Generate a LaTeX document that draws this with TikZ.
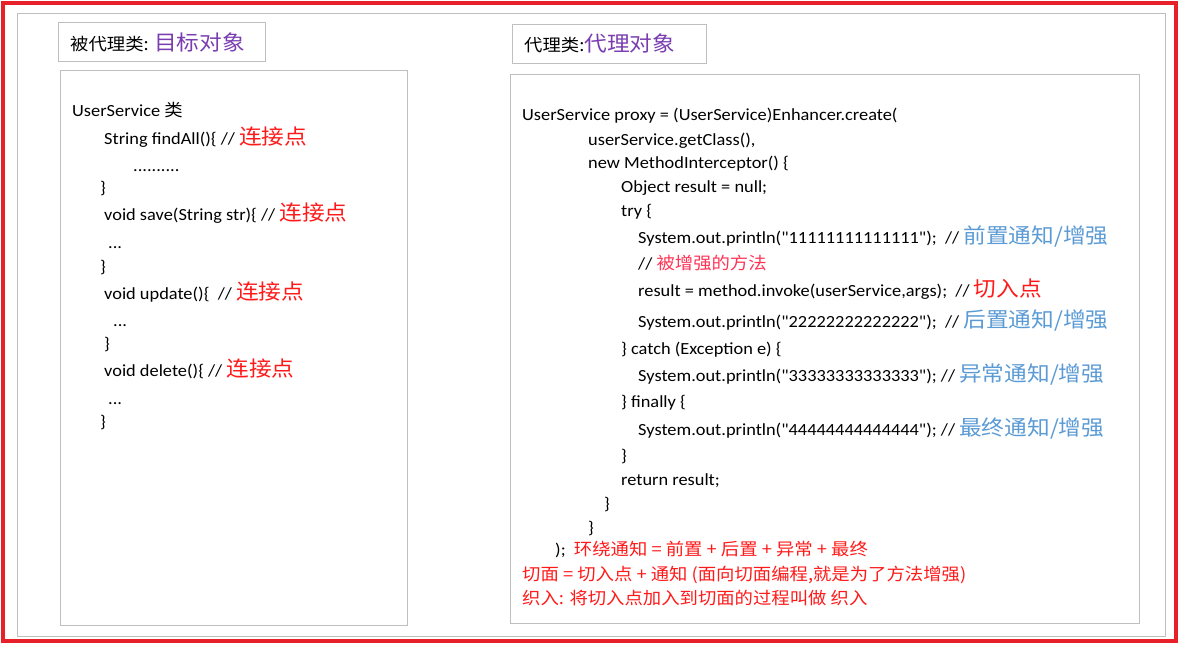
\documentclass[tikz,border=0pt]{standalone}
\usepackage{fontspec}
\setmainfont{Carlito}[Ligatures=TeXOff,FakeStretch=1.08]
\newfontfamily\cjk{Noto Sans CJK SC}[FakeStretch=1.08]
\definecolor{bordred}{HTML}{E8202A}
\definecolor{boxgray}{HTML}{BFBFBF}
\definecolor{notered}{HTML}{FF1A1A}
\definecolor{notepink}{HTML}{FF3355}
\definecolor{noteblue}{HTML}{5B9BD5}
\definecolor{notepurple}{HTML}{7A3DB0}
\newcommand\bignote[2]{{\color{#1}\cjk\fontsize{21}{24}\selectfont #2}}
\begin{document}
\begin{tikzpicture}[x=1pt,y=-1pt,
  code/.style={anchor=base west,inner sep=0pt,font=\fontsize{17}{19}\selectfont},
  box/.style={draw=boxgray,line width=1pt}]
\useasboundingbox (0,0) rectangle (1180,648);
\fill[white] (0,0) rectangle (1180,648);
\draw[bordred,line width=4pt] (2.5,3) rectangle (1176,641);
\draw[box] (17,13) rectangle (1165,636);
% left
\draw[box] (58,22) rectangle (265,61);
\draw[box] (60,70) rectangle (407,625);
\node[code] (lt) at (70,50) {{\cjk\fontsize{17}{20}\selectfont 被代理类:} {\color{notepurple}\cjk\fontsize{21}{24}\selectfont 目标对象}};
\node[code] (l1) at (72,116) {UserService {\cjk 类}};
\node[code] (l2) at (104,144) {String findAll()\{ // \bignote{notered}{连接点}};
\node[code] (l3) at (133,171) {..........};
\node[code] (l4) at (100,193) {\}};
\node[code] (l5) at (104,220) {void save(String str)\{ // \bignote{notered}{连接点}};
\node[code] (l6) at (108,248) {...};
\node[code] (l7) at (100,272) {\}};
\node[code] (l8) at (104,299) {void update()\{ \ // \bignote{notered}{连接点}};
\node[code] (l9) at (113,326) {...};
\node[code] (l10) at (104,349) {\}};
\node[code] (l11) at (104,376) {void delete()\{ // \bignote{notered}{连接点}};
\node[code] (l12) at (108,404) {...};
\node[code] (l13) at (100,427) {\}};
% right
\draw[box] (512,24) rectangle (706,63);
\draw[box] (510,74) rectangle (1139,623);
\node[code] (rt) at (524,51) {{\cjk\fontsize{17}{20}\selectfont 代理类:}{\color{notepurple}\cjk\fontsize{21}{24}\selectfont 代理对象}};
\node[code] (r1) at (522,120) {UserService proxy = (UserService)Enhancer.create(};
\node[code] (r2) at (588,145) {userService.getClass(),};
\node[code] (r3) at (588,168) {new MethodInterceptor() \{};
\node[code] (r4) at (621,192) {Object result = null;};
\node[code] (r5) at (621,216) {try \{};
\node[code] (r6) at (638,243) {System.out.println("11111111111111"); \ // \bignote{noteblue}{前置通知/增强}};
\node[code] (r7) at (638,269) {// {\color{notepink}\cjk 被增强的方法}};
\node[code] (r8) at (638,296) {result = method.invoke(userService,args); \ // \bignote{notered}{切入点}};
\node[code] (r9) at (638,327) {System.out.println("22222222222222"); \ // \bignote{noteblue}{后置通知/增强}};
\node[code] (r10) at (621,354) {\} catch (Exception e) \{};
\node[code] (r11) at (638,381) {System.out.println("33333333333333"); // \bignote{noteblue}{异常通知/增强}};
\node[code] (r12) at (621,407) {\} finally \{};
\node[code] (r13) at (638,435) {System.out.println("44444444444444"); // \bignote{noteblue}{最终通知/增强}};
\node[code] (r14) at (621,461) {\}};
\node[code] (r15) at (621,485) {return result;};
\node[code] (r16) at (604,509) {\}};
\node[code] (r17) at (588,533) {\}};
\node[code] (r18) at (555,555) {); \ {\color{notered}\cjk 环绕通知 = 前置 + 后置 + 异常 + 最终}};
\node[code,text=notered] (r19) at (522,580) {\cjk 切面 = 切入点 + 通知 (面向切面编程,就是为了方法增强)};
\node[code,text=notered] (r20) at (522,604) {\cjk 织入: 将切入点加入到切面的过程叫做 织入};
\end{tikzpicture}
\end{document}
